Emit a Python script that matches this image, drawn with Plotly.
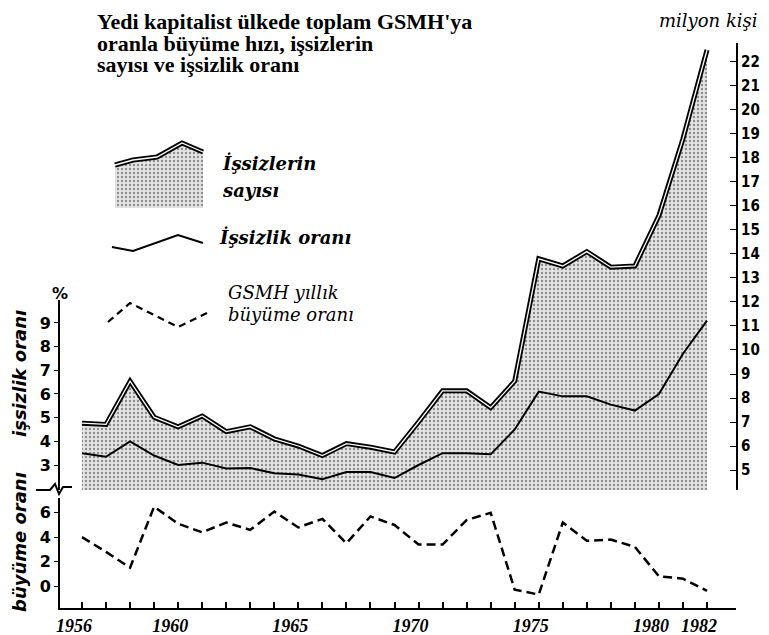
import plotly.graph_objects as go

# ---------------- data ----------------
years = list(range(1956, 1983))
unemployed_millions = [6.95, 6.9, 8.7, 7.2, 6.8, 7.25, 6.6, 6.8, 6.3, 6.0, 5.6, 6.1, 5.95,
                       5.75, 7.0, 8.3, 8.3, 7.6, 8.7, 13.8, 13.5, 14.1, 13.45, 13.5, 15.6,
                       18.8, 22.5]
unemployment_rate = [3.5, 3.35, 4.0, 3.4, 3.0, 3.1, 2.85, 2.87, 2.65, 2.6, 2.4, 2.7, 2.7,
                     2.45, 3.0, 3.5, 3.5, 3.45, 4.5, 6.1, 5.9, 5.9, 5.55, 5.3, 6.0, 7.7, 9.1]
gnp_growth = [4.0, 2.8, 1.5, 6.5, 5.1, 4.4, 5.2, 4.6, 6.1, 4.8, 5.5, 3.5, 5.7, 5.0, 3.4,
              3.4, 5.4, 6.0, -0.3, -0.7, 5.2, 3.7, 3.8, 3.2, 0.8, 0.6, -0.4]
labelled_years = [1956, 1960, 1965, 1970, 1975, 1980, 1982]
count_ticks = list(range(4, 23))
rate_ticks = list(range(3, 10))
growth_ticks = [0, 2, 4, 6]

title_lines = ["Yedi kapitalist ülkede toplam GSMH'ya",
               "oranla büyüme hızı, işsizlerin",
               "sayısı ve işsizlik oranı"]

# ---------------- geometry helpers ----------------
# page is 769x635; the browser body adds an 8px margin, so the figure is 8px smaller
OFF = 8
PAGE_W, PAGE_H = 769, 635
X0, X1, Y0, Y1 = 60, 736, 43, 608          # plot area in page pixels
W, H = PAGE_W - OFF, PAGE_H - OFF
L, R, T, B = X0 - OFF, W - (X1 - OFF), Y0 - OFF, H - (Y1 - OFF)
PW, PH = X1 - X0, Y1 - Y0


def px(x):
    return (x - X0) / PW


def py(y):
    return (Y1 - y) / PH


SERIF = "DejaVu Serif"
TSERIF = "Liberation Serif"
SANS = "DejaVu Sans"
SANSC = "DejaVu Sans Condensed, Liberation Sans Narrow, DejaVu Sans"

PATTERN = dict(shape=".", fgcolor="#333333", bgcolor="#e4e4e4", size=4, solidity=0.28)

fig = go.Figure()

# filled area: number of unemployed
fig.add_trace(go.Scatter(
    x=years, y=unemployed_millions, xaxis="x", yaxis="y2", mode="lines",
    fill="tozeroy", fillcolor="#dcdcdc", fillpattern=PATTERN,
    line=dict(color="black", width=5), showlegend=False, hoverinfo="skip"))
fig.add_trace(go.Scatter(
    x=years, y=unemployed_millions, xaxis="x", yaxis="y2", mode="lines",
    line=dict(color="white", width=1.3), showlegend=False, hoverinfo="skip"))
# unemployment rate
fig.add_trace(go.Scatter(
    x=years, y=unemployment_rate, xaxis="x", yaxis="y3", mode="lines",
    line=dict(color="black", width=2), showlegend=False, hoverinfo="skip"))
# GNP growth
fig.add_trace(go.Scatter(
    x=years, y=gnp_growth, xaxis="x", yaxis="y", mode="lines",
    line=dict(color="black", width=2.5, dash="9px,5px"), showlegend=False, hoverinfo="skip"))

# ---------------- custom legend samples (pixel overlay axes) ----------------
leg_fill_x = [115, 133, 157, 182, 203]
leg_fill_y = [165, 160, 157, 143, 152]
fig.add_trace(go.Scatter(
    x=leg_fill_x + [203, 115, 115], y=leg_fill_y + [208, 208, 165], xaxis="x2", yaxis="y4",
    mode="lines", fill="toself", fillcolor="#dcdcdc", fillpattern=PATTERN,
    line=dict(width=0), showlegend=False, hoverinfo="skip"))
fig.add_trace(go.Scatter(x=leg_fill_x, y=leg_fill_y, xaxis="x2", yaxis="y4", mode="lines",
                         line=dict(color="black", width=5), showlegend=False, hoverinfo="skip"))
fig.add_trace(go.Scatter(x=leg_fill_x, y=leg_fill_y, xaxis="x2", yaxis="y4", mode="lines",
                         line=dict(color="white", width=1.3), showlegend=False, hoverinfo="skip"))
fig.add_trace(go.Scatter(x=[112, 133, 178, 203], y=[247, 251, 235, 243], xaxis="x2", yaxis="y4",
                         mode="lines", line=dict(color="black", width=2),
                         showlegend=False, hoverinfo="skip"))
fig.add_trace(go.Scatter(x=[108, 130, 178, 207], y=[322, 303, 327, 313], xaxis="x2", yaxis="y4",
                         mode="lines", line=dict(color="black", width=2.2, dash="7px,5px"),
                         showlegend=False, hoverinfo="skip"))

# ---------------- annotations ----------------
ann = []
for i, line in enumerate(title_lines):
    ann.append(dict(text=line, x=px(95), y=py(22 + 21.5 * i), xref="paper", yref="paper",
                    xanchor="left", yanchor="middle", showarrow=False,
                    font=dict(family=TSERIF, size=22, color="black", weight="bold")))
ann.append(dict(text="milyon kişi", x=px(760), y=py(20), xref="paper", yref="paper",
                xanchor="right", yanchor="middle", showarrow=False,
                font=dict(family=SERIF, size=18, color="black", style="italic")))
legend_texts = [("İşsizlerin", 220, 163, "bold"), ("sayısı", 220, 190, "bold"),
                ("İşsizlik oranı", 217, 237, "bold"),
                ("GSMH yıllık", 226, 292, "normal"), ("büyüme oranı", 226, 314, "normal")]
for t, x0, y0, wt in legend_texts:
    ann.append(dict(text=t, x=px(x0), y=py(y0), xref="paper", yref="paper",
                    xanchor="left", yanchor="middle", showarrow=False,
                    font=dict(family=SERIF, size=18, color="black", style="italic", weight=wt)))
ann.append(dict(text="%", x=px(60), y=py(293), xref="paper", yref="paper",
                xanchor="center", yanchor="middle", showarrow=False,
                font=dict(family=SANS, size=16, color="black", weight="bold")))
ann.append(dict(text="işsizlik oranı", x=px(19), y=py(374), xref="paper", yref="paper",
                xanchor="center", yanchor="middle", textangle=-90, showarrow=False,
                font=dict(family=SANS, size=18, color="black", style="italic", weight="bold")))
ann.append(dict(text="büyüme oranı", x=px(19), y=py(542), xref="paper", yref="paper",
                xanchor="center", yanchor="middle", textangle=-90, showarrow=False,
                font=dict(family=SANS, size=18, color="black", style="italic", weight="bold")))

# axis break symbol
brk = [(36, 490), (50, 490), (55, 484), (59, 494), (63, 487), (72, 487)]
path = "M " + " L ".join(f"{px(a)},{py(b)}" for a, b in brk)
shapes = [dict(type="path", path=path, xref="paper", yref="paper",
               line=dict(color="black", width=2))]

tickfont_sans = dict(family=SANS, size=16, color="black", weight="bold")

fig.update_layout(
    width=W, height=H, autosize=False,
    margin=dict(l=L, r=R, t=T, b=B, pad=0, autoexpand=False),
    paper_bgcolor="white", plot_bgcolor="rgba(0,0,0,0)",
    showlegend=False,
    annotations=ann, shapes=shapes,
    xaxis=dict(domain=[0, 1], range=[1955.085, 1983.206], anchor="y", automargin=False,
               tickvals=years, ticktext=[str(y) if y in labelled_years else "" for y in years],
               tickangle=0, ticklabelshift=-8, ticklabelstandoff=0,
               ticks="inside", ticklen=6, tickwidth=1.5, tickcolor="black",
               showline=True, linecolor="black", linewidth=2, showgrid=False, zeroline=False,
               tickfont=dict(family=TSERIF, size=18, color="black", weight="bold", style="italic")),
    yaxis=dict(domain=[0, py(498)], range=[-1.8, 7.21], anchor="x", automargin=False,
               tickvals=growth_ticks, ticks="outside", ticklen=4, tickcolor="black",
               showline=True, linecolor="black", linewidth=2, showgrid=False, zeroline=False,
               tickfont=tickfont_sans),
    yaxis2=dict(domain=[py(490), 1], range=[4.167, 22.79], anchor="x", side="right",
                automargin=False,
                tickvals=count_ticks, ticks="inside", ticklen=6, tickcolor="black",
                showline=True, linecolor="black", linewidth=2, showgrid=False, zeroline=False,
                tickfont=dict(family=SANSC, size=15, color="black", weight="bold")),
    yaxis3=dict(domain=[py(490), py(300)], range=[1.944, 9.971], anchor="x", side="left",
                automargin=False,
                tickvals=rate_ticks, ticks="outside", ticklen=4, tickcolor="black",
                showline=True, linecolor="black", linewidth=2, showgrid=False, zeroline=False,
                tickfont=tickfont_sans),
    xaxis2=dict(domain=[0, 1], range=[X0, X1], anchor="y4", visible=False),
    yaxis4=dict(domain=[0, 1], range=[Y1, Y0], anchor="x2", visible=False),
)

fig.write_html("out.html")
